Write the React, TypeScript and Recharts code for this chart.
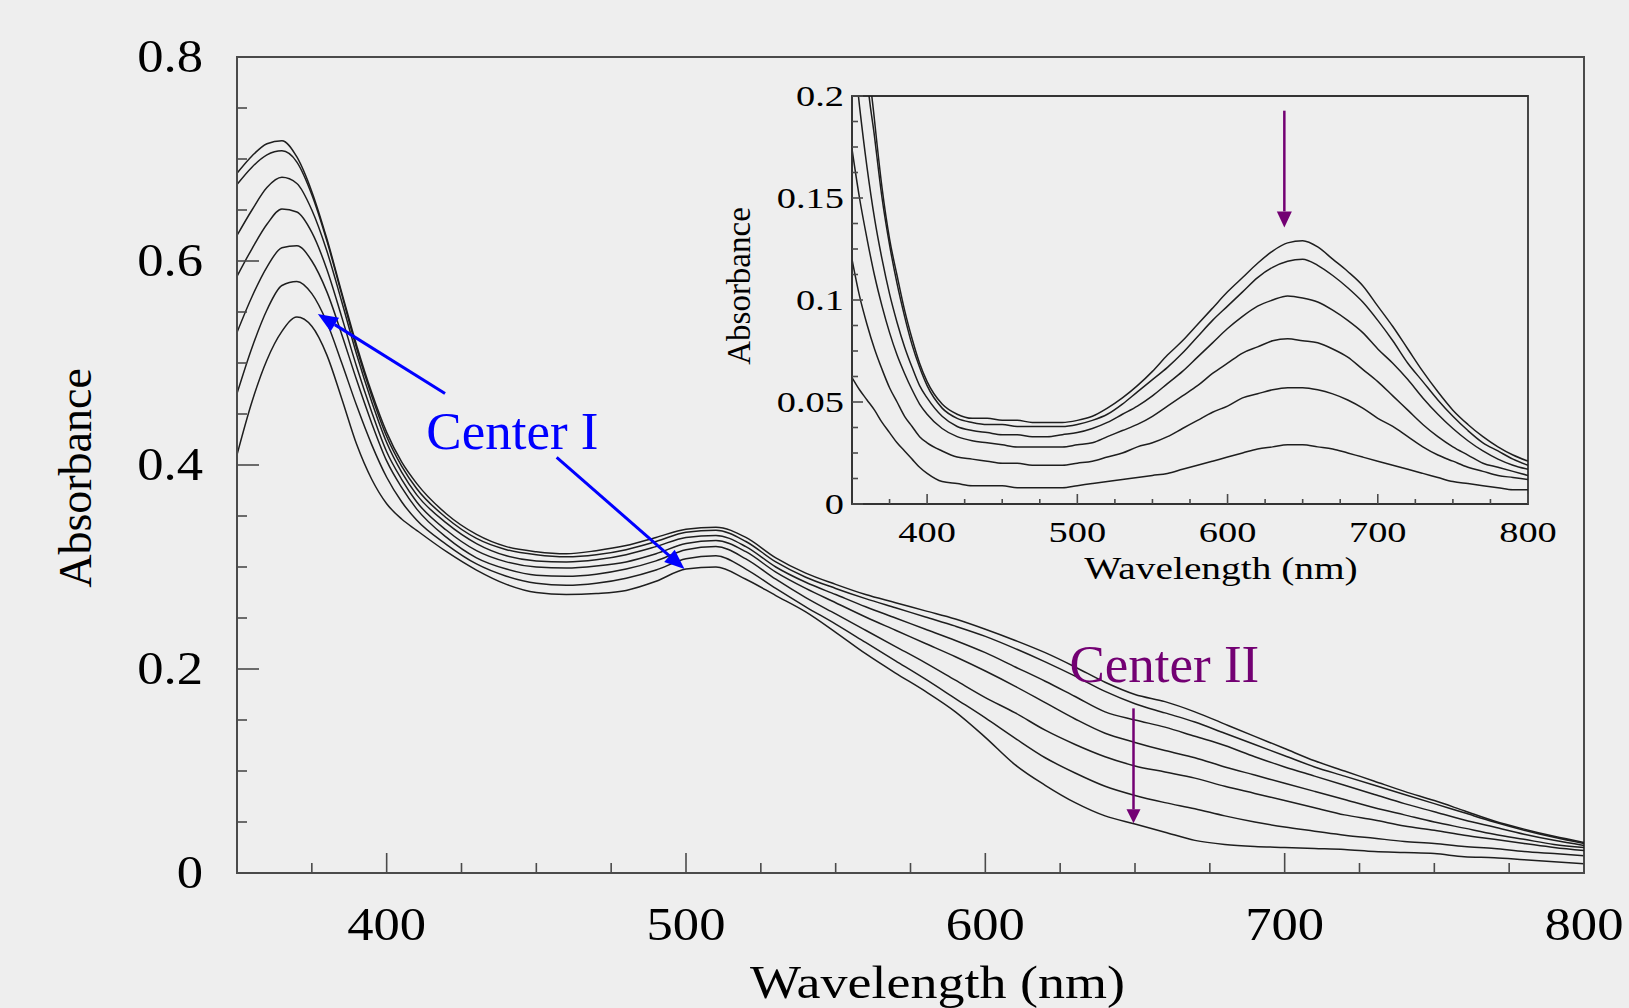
import { Line, LineChart, ReferenceArea, ReferenceDot, ReferenceLine, XAxis, YAxis } from 'recharts';

// main spectra: 7 traces (top curve first)
const WAVELENGTH = [
  350, 355, 360, 365, 370, 375, 380, 385, 390, 395, 400, 405, 410,
  420, 430, 440, 450, 460, 470, 480, 490, 500, 510, 520, 530, 540, 550, 560, 570, 580, 590, 600,
  610, 620, 630, 640, 650, 660, 670, 680, 690, 700, 710, 720, 730, 740, 750, 760, 770, 780, 790, 800,
];
const TRACE_1 = [
  0.686, 0.703, 0.715, 0.718, 0.702, 0.668, 0.622, 0.569, 0.517, 0.471, 0.432, 0.403, 0.382,
  0.352, 0.332, 0.32, 0.315, 0.313, 0.316, 0.321, 0.329, 0.337, 0.339, 0.329, 0.309, 0.294, 0.283, 0.273, 0.265, 0.257, 0.249, 0.239,
  0.228, 0.216, 0.202, 0.187, 0.175, 0.168, 0.158, 0.146, 0.134, 0.122, 0.11, 0.1, 0.09, 0.08, 0.071, 0.061, 0.051, 0.043, 0.036, 0.03,
];
const TRACE_2 = [
  0.675, 0.692, 0.704, 0.708, 0.697, 0.665, 0.62, 0.567, 0.514, 0.468, 0.428, 0.399, 0.377,
  0.348, 0.328, 0.317, 0.312, 0.31, 0.312, 0.317, 0.325, 0.334, 0.336, 0.325, 0.305, 0.29, 0.279, 0.269, 0.26, 0.251, 0.242, 0.232,
  0.22, 0.207, 0.193, 0.178, 0.166, 0.157, 0.148, 0.137, 0.126, 0.115, 0.104, 0.095, 0.086, 0.077, 0.068, 0.059, 0.05, 0.042, 0.035, 0.029,
];
const TRACE_3 = [
  0.625, 0.65, 0.672, 0.682, 0.676, 0.65, 0.61, 0.56, 0.508, 0.462, 0.422, 0.393, 0.371,
  0.343, 0.323, 0.311, 0.306, 0.305, 0.307, 0.312, 0.32, 0.329, 0.331, 0.32, 0.3, 0.285, 0.273, 0.261, 0.25, 0.239, 0.228, 0.216,
  0.202, 0.188, 0.173, 0.158, 0.15, 0.143, 0.134, 0.125, 0.114, 0.104, 0.095, 0.086, 0.077, 0.068, 0.06, 0.052, 0.045, 0.038, 0.032, 0.027,
];
const TRACE_4 = [
  0.585, 0.612, 0.636, 0.651, 0.648, 0.628, 0.592, 0.545, 0.496, 0.452, 0.413, 0.386, 0.364,
  0.336, 0.316, 0.305, 0.3, 0.299, 0.301, 0.305, 0.313, 0.323, 0.326, 0.315, 0.295, 0.279, 0.265, 0.251, 0.238, 0.225, 0.212, 0.198,
  0.183, 0.167, 0.151, 0.137, 0.128, 0.12, 0.113, 0.104, 0.096, 0.088, 0.08, 0.072, 0.064, 0.057, 0.05, 0.044, 0.038, 0.033, 0.028, 0.025,
];
const TRACE_5 = [
  0.53, 0.565, 0.594, 0.613, 0.615, 0.6, 0.57, 0.528, 0.483, 0.441, 0.404, 0.378, 0.357,
  0.329, 0.309, 0.298, 0.292, 0.291, 0.293, 0.298, 0.306, 0.317, 0.32, 0.308, 0.288, 0.27, 0.254, 0.238, 0.222, 0.206, 0.189, 0.172,
  0.157, 0.14, 0.126, 0.114, 0.105, 0.099, 0.093, 0.085, 0.078, 0.071, 0.064, 0.057, 0.052, 0.046, 0.042, 0.037, 0.033, 0.029, 0.025, 0.022,
];
const TRACE_6 = [
  0.47, 0.515, 0.552, 0.576, 0.58, 0.568, 0.54, 0.5, 0.458, 0.42, 0.388, 0.364, 0.346,
  0.322, 0.303, 0.291, 0.284, 0.282, 0.284, 0.289, 0.297, 0.308, 0.311, 0.298, 0.279, 0.261, 0.244, 0.226, 0.208, 0.19, 0.171, 0.152,
  0.132, 0.113, 0.098, 0.085, 0.076, 0.069, 0.063, 0.056, 0.05, 0.045, 0.041, 0.037, 0.034, 0.031, 0.029, 0.026, 0.024, 0.021, 0.019, 0.017,
];
const TRACE_7 = [
  0.41, 0.462, 0.503, 0.531, 0.545, 0.536, 0.508, 0.465, 0.42, 0.386, 0.362, 0.347, 0.336,
  0.315, 0.297, 0.283, 0.275, 0.273, 0.274, 0.277, 0.286, 0.298, 0.3, 0.288, 0.272, 0.256, 0.236, 0.215, 0.196, 0.178, 0.158, 0.133,
  0.106, 0.086, 0.069, 0.056, 0.048, 0.04, 0.032, 0.028, 0.026, 0.025, 0.024, 0.023, 0.021, 0.02, 0.019, 0.016, 0.015, 0.013, 0.011, 0.009,
];
const MAIN_TRACES = [TRACE_1, TRACE_2, TRACE_3, TRACE_4, TRACE_5, TRACE_6, TRACE_7];

// inset: 6 traces
const INSET_WAVELENGTH = [
  350, 355, 360, 365, 370, 375, 380, 385, 390, 395, 400,
  410, 420, 430, 440, 450, 460, 470, 480, 490, 500, 510, 520, 530, 540, 550, 560, 570, 580, 590, 600,
  610, 620, 630, 640, 650, 660, 670, 680, 690, 700, 710, 720, 730, 740, 750, 760, 770, 780, 790, 800,
];
const INSET_1 = [
  0.36, 0.29, 0.225, 0.188, 0.155, 0.13, 0.112, 0.095, 0.081, 0.069, 0.06,
  0.049, 0.044, 0.042, 0.042, 0.041, 0.041, 0.04, 0.04, 0.04, 0.041, 0.043, 0.047, 0.052, 0.058, 0.065, 0.073, 0.08, 0.088, 0.096, 0.104,
  0.111, 0.118, 0.124, 0.128, 0.129, 0.126, 0.12, 0.114, 0.107, 0.097, 0.087, 0.076, 0.065, 0.055, 0.046, 0.039, 0.033, 0.028, 0.024, 0.021,
];
const INSET_2 = [
  0.33, 0.27, 0.21, 0.18, 0.15, 0.127, 0.108, 0.092, 0.078, 0.067, 0.058,
  0.047, 0.042, 0.04, 0.039, 0.039, 0.038, 0.038, 0.038, 0.038, 0.039, 0.041, 0.044, 0.049, 0.055, 0.061, 0.067, 0.074, 0.082, 0.09, 0.097,
  0.104, 0.111, 0.116, 0.119, 0.12, 0.117, 0.112, 0.106, 0.099, 0.09, 0.08, 0.069, 0.06, 0.051, 0.043, 0.036, 0.03, 0.026, 0.022, 0.019,
];
const INSET_3 = [
  0.23, 0.195, 0.165, 0.14, 0.12, 0.103, 0.089, 0.077, 0.067, 0.058, 0.052,
  0.043, 0.038, 0.036, 0.035, 0.034, 0.034, 0.033, 0.033, 0.034, 0.035, 0.037, 0.04, 0.044, 0.048, 0.053, 0.059, 0.065, 0.072, 0.079, 0.086,
  0.092, 0.097, 0.1, 0.102, 0.101, 0.099, 0.095, 0.09, 0.084, 0.076, 0.069, 0.061, 0.052, 0.044, 0.037, 0.031, 0.026, 0.022, 0.019, 0.017,
];
const INSET_4 = [
  0.174, 0.15, 0.13, 0.112, 0.097, 0.084, 0.073, 0.064, 0.056, 0.049, 0.044,
  0.037, 0.033, 0.031, 0.03, 0.029, 0.028, 0.028, 0.028, 0.028, 0.029, 0.03, 0.033, 0.036, 0.039, 0.043, 0.048, 0.053, 0.058, 0.064, 0.069,
  0.074, 0.077, 0.08, 0.081, 0.08, 0.079, 0.076, 0.072, 0.066, 0.06, 0.053, 0.046, 0.039, 0.033, 0.028, 0.024, 0.02, 0.018, 0.016, 0.014,
];
const INSET_5 = [
  0.12, 0.102, 0.088, 0.076, 0.066, 0.057, 0.05, 0.043, 0.038, 0.033, 0.03,
  0.026, 0.023, 0.022, 0.021, 0.02, 0.02, 0.019, 0.019, 0.019, 0.02, 0.021, 0.023, 0.025, 0.028, 0.03, 0.033, 0.037, 0.041, 0.045, 0.048,
  0.052, 0.054, 0.056, 0.057, 0.057, 0.056, 0.054, 0.051, 0.047, 0.042, 0.038, 0.033, 0.028, 0.024, 0.021, 0.018, 0.016, 0.014, 0.013, 0.012,
];
const INSET_6 = [
  0.062, 0.056, 0.051, 0.046, 0.04, 0.035, 0.03, 0.026, 0.022, 0.018, 0.015,
  0.011, 0.01, 0.009, 0.009, 0.009, 0.008, 0.008, 0.008, 0.008, 0.009, 0.01, 0.011, 0.012, 0.013, 0.014, 0.015, 0.017, 0.019, 0.021, 0.023,
  0.025, 0.027, 0.028, 0.029, 0.029, 0.028, 0.027, 0.025, 0.023, 0.021, 0.019, 0.017, 0.015, 0.013, 0.011, 0.01, 0.009, 0.008, 0.007, 0.007,
];
const INSET_TRACES = [INSET_1, INSET_2, INSET_3, INSET_4, INSET_5, INSET_6];

// axes
const MAIN_X_TICKS = [375, 400, 425, 450, 475, 500, 525, 550, 575, 600, 625, 650, 675, 700, 725, 750, 775, 800];
const MAIN_X_LABELS = [400, 500, 600, 700, 800];
const MAIN_Y_TICKS = [0, 0.05, 0.1, 0.15, 0.2, 0.25, 0.3, 0.35, 0.4, 0.45, 0.5, 0.55, 0.6, 0.65, 0.7, 0.75, 0.8];
const MAIN_Y_LABELS = [0, 0.2, 0.4, 0.6, 0.8];
const INSET_X_TICKS = MAIN_X_TICKS;
const INSET_X_LABELS = MAIN_X_LABELS;
const INSET_Y_TICKS = [
  0, 0.0125, 0.025, 0.0375, 0.05, 0.0625, 0.075, 0.0875, 0.1, 0.1125, 0.125, 0.1375, 0.15, 0.1625, 0.175, 0.1875, 0.2,
];
const INSET_Y_LABELS = [0, 0.05, 0.1, 0.15, 0.2];

// annotations, in data units: [wavelength, absorbance]
const CENTER_I_TEXT = [442, 0.416];
const CENTER_I_ARROW_UP = [[419.5, 0.47], [377, 0.548]];
const CENTER_I_ARROW_DOWN = [[456.8, 0.4075], [499.5, 0.298]];
const CENTER_II_TEXT = [659.8, 0.1876];
const CENTER_II_ARROW = [[649.5, 0.1614], [649.5, 0.0487]];
const INSET_ARROW = [[637.8, 0.1928], [637.8, 0.1356]];

const FONT = '"Liberation Serif", "Times New Roman", serif';
const AXIS = '#4a4a4a';
const TRACE = '#1e1e1e';
const BLUE = '#0000ff';
const PURPLE = '#730073';

const mainData = WAVELENGTH.map((w, i) => {
  const row: Record<string, number> = { w };
  MAIN_TRACES.forEach((t, k) => (row['t' + k] = t[i]));
  return row;
});
const insetData = INSET_WAVELENGTH.map((w, i) => {
  const row: Record<string, number> = { w };
  INSET_TRACES.forEach((t, k) => (row['t' + k] = t[i]));
  return row;
});

const has = (list: number[], v: number) => list.some((l) => Math.abs(l - v) < 1e-9);

function xTick(labels: number[], s: { size: number; stretch: number; major: number; minor: number; base: number }) {
  return (p: any) => {
    const { x, y, payload } = p;
    const big = has(labels, payload.value);
    return (
      <g>
        <line x1={x} y1={y} x2={x} y2={y - (big ? s.major : s.minor)} stroke={AXIS} strokeWidth={1.6} />
        {big && (
          <text
            transform={`translate(${x},${y + s.base}) scale(${s.stretch},1)`}
            textAnchor="middle"
            fontSize={s.size}
            fontFamily={FONT}
            fill="#000"
          >
            {payload.value}
          </text>
        )}
      </g>
    );
  };
}

function yTick(labels: number[], s: { size: number; stretch: number; major: number; minor: number; gap: number; base: number }) {
  return (p: any) => {
    const { x, y, payload } = p;
    const big = has(labels, payload.value);
    return (
      <g>
        <line x1={x} y1={y} x2={x + (big ? s.major : s.minor)} y2={y} stroke={AXIS} strokeWidth={1.6} />
        {big && (
          <text
            transform={`translate(${x - s.gap},${y + s.base}) scale(${s.stretch},1)`}
            textAnchor="end"
            fontSize={s.size}
            fontFamily={FONT}
            fill="#000"
          >
            {payload.value}
          </text>
        )}
      </g>
    );
  };
}

function arrow(color: string, width: number, headLen: number, headHalf: number) {
  return (p: any) => {
    const { x1, y1, x2, y2 } = p;
    const len = Math.hypot(x2 - x1, y2 - y1) || 1;
    const ux = (x2 - x1) / len;
    const uy = (y2 - y1) / len;
    const bx = x2 - ux * headLen;
    const by = y2 - uy * headLen;
    return (
      <g>
        <line x1={x1} y1={y1} x2={bx} y2={by} stroke={color} strokeWidth={width} />
        <polygon
          points={`${x2},${y2} ${bx - uy * headHalf},${by + ux * headHalf} ${bx + uy * headHalf},${by - ux * headHalf}`}
          fill={color}
        />
      </g>
    );
  };
}

const seg = (a: number[][]) => [
  { x: a[0][0], y: a[0][1] },
  { x: a[1][0], y: a[1][1] },
];

function MainChart() {
  return (
    <LineChart width={1629} height={1008} data={mainData} margin={{ top: 57, right: 45, bottom: 75, left: 177 }}>
      <ReferenceArea x1={350} x2={800} y1={0} y2={0.8} fill="none" stroke={AXIS} strokeWidth={2} />
      <XAxis
        dataKey="w"
        type="number"
        domain={[350, 800]}
        allowDataOverflow
        ticks={MAIN_X_TICKS}
        interval={0}
        height={60}
        tickSize={0}
        tickMargin={0}
        tickLine={false}
        axisLine={{ stroke: AXIS, strokeWidth: 2 }}
        tick={xTick(MAIN_X_LABELS, { size: 47, stretch: 1.12, major: 20, minor: 10, base: 67 })}
        label={(p: any) => (
          <text
            transform={`translate(${p.viewBox.x + p.viewBox.width / 2 + 27},${p.viewBox.y + 125}) scale(1.15,1)`}
            textAnchor="middle"
            fontSize={47}
            fontFamily={FONT}
            fill="#000"
          >
            Wavelength (nm)
          </text>
        )}
      />
      <YAxis
        type="number"
        domain={[0, 0.8]}
        allowDataOverflow
        ticks={MAIN_Y_TICKS}
        interval={0}
        width={60}
        tickSize={0}
        tickMargin={0}
        tickLine={false}
        axisLine={{ stroke: AXIS, strokeWidth: 2 }}
        tick={yTick(MAIN_Y_LABELS, { size: 47, stretch: 1.12, major: 22, minor: 10, gap: 34, base: 15 })}
        label={(p: any) => (
          <text
            transform={`translate(${p.viewBox.x - 86},${p.viewBox.y + p.viewBox.height / 2 + 13}) rotate(-90)`}
            textAnchor="middle"
            fontSize={46}
            fontFamily={FONT}
            fill="#000"
          >
            Absorbance
          </text>
        )}
      />
      {MAIN_TRACES.map((_, k) => (
        <Line
          key={k}
          dataKey={'t' + k}
          type="monotone"
          stroke={TRACE}
          strokeWidth={1.5}
          dot={false}
          activeDot={false}
          isAnimationActive={false}
        />
      ))}
      <ReferenceLine segment={seg(CENTER_I_ARROW_UP)} shape={arrow(BLUE, 3, 20, 8)} />
      <ReferenceLine segment={seg(CENTER_I_ARROW_DOWN)} shape={arrow(BLUE, 3, 20, 8)} />
      <ReferenceLine segment={seg(CENTER_II_ARROW)} shape={arrow(PURPLE, 2.5, 14, 7)} />
      <ReferenceDot
        x={CENTER_I_TEXT[0]}
        y={CENTER_I_TEXT[1]}
        r={0}
        shape={(p: any) => (
          <text x={p.cx} y={p.cy} textAnchor="middle" fontSize={53} fontFamily={FONT} fill={BLUE}>
            Center I
          </text>
        )}
      />
      <ReferenceDot
        x={CENTER_II_TEXT[0]}
        y={CENTER_II_TEXT[1]}
        r={0}
        shape={(p: any) => (
          <text x={p.cx} y={p.cy} textAnchor="middle" fontSize={53} fontFamily={FONT} fill={PURPLE}>
            Center II
          </text>
        )}
      />
    </LineChart>
  );
}

function InsetChart() {
  return (
    <LineChart width={900} height={560} data={insetData} margin={{ top: 36, right: 72, bottom: 76, left: 112 }}>
      <ReferenceArea x1={350} x2={800} y1={0} y2={0.2} fill="none" stroke="#333" strokeWidth={1.8} />
      <XAxis
        dataKey="w"
        type="number"
        domain={[350, 800]}
        allowDataOverflow
        ticks={INSET_X_TICKS}
        interval={0}
        height={40}
        tickSize={0}
        tickMargin={0}
        tickLine={false}
        axisLine={{ stroke: '#333', strokeWidth: 1.8 }}
        tick={xTick(INSET_X_LABELS, { size: 30, stretch: 1.28, major: 10, minor: 5, base: 38 })}
        label={(p: any) => (
          <text
            transform={`translate(${p.viewBox.x + p.viewBox.width / 2 + 31},${p.viewBox.y + 75}) scale(1.27,1)`}
            textAnchor="middle"
            fontSize={31}
            fontFamily={FONT}
            fill="#000"
          >
            Wavelength (nm)
          </text>
        )}
      />
      <YAxis
        type="number"
        domain={[0, 0.2]}
        allowDataOverflow
        ticks={INSET_Y_TICKS}
        interval={0}
        width={40}
        tickSize={0}
        tickMargin={0}
        tickLine={false}
        axisLine={{ stroke: '#333', strokeWidth: 1.8 }}
        tick={yTick(INSET_Y_LABELS, { size: 30, stretch: 1.28, major: 11, minor: 6, gap: 8, base: 10 })}
        label={(p: any) => (
          <text
            transform={`translate(${p.viewBox.x - 62},${p.viewBox.y + p.viewBox.height / 2 - 14}) rotate(-90)`}
            textAnchor="middle"
            fontSize={33}
            fontFamily={FONT}
            fill="#000"
          >
            Absorbance
          </text>
        )}
      />
      {INSET_TRACES.map((_, k) => (
        <Line
          key={k}
          dataKey={'t' + k}
          type="monotone"
          stroke={TRACE}
          strokeWidth={1.5}
          dot={false}
          activeDot={false}
          isAnimationActive={false}
        />
      ))}
      <ReferenceLine segment={seg(INSET_ARROW)} shape={arrow(PURPLE, 2.5, 16, 7.5)} />
    </LineChart>
  );
}

export default function App() {
  return (
    <div
      style={{
        position: 'absolute',
        left: 0,
        top: 0,
        width: 1629,
        height: 1008,
        background: '#eeeeee',
        overflow: 'hidden',
      }}
    >
      <div style={{ position: 'absolute', left: 0, top: 0 }}>
        <MainChart />
      </div>
      <div style={{ position: 'absolute', left: 700, top: 60 }}>
        <InsetChart />
      </div>
    </div>
  );
}
